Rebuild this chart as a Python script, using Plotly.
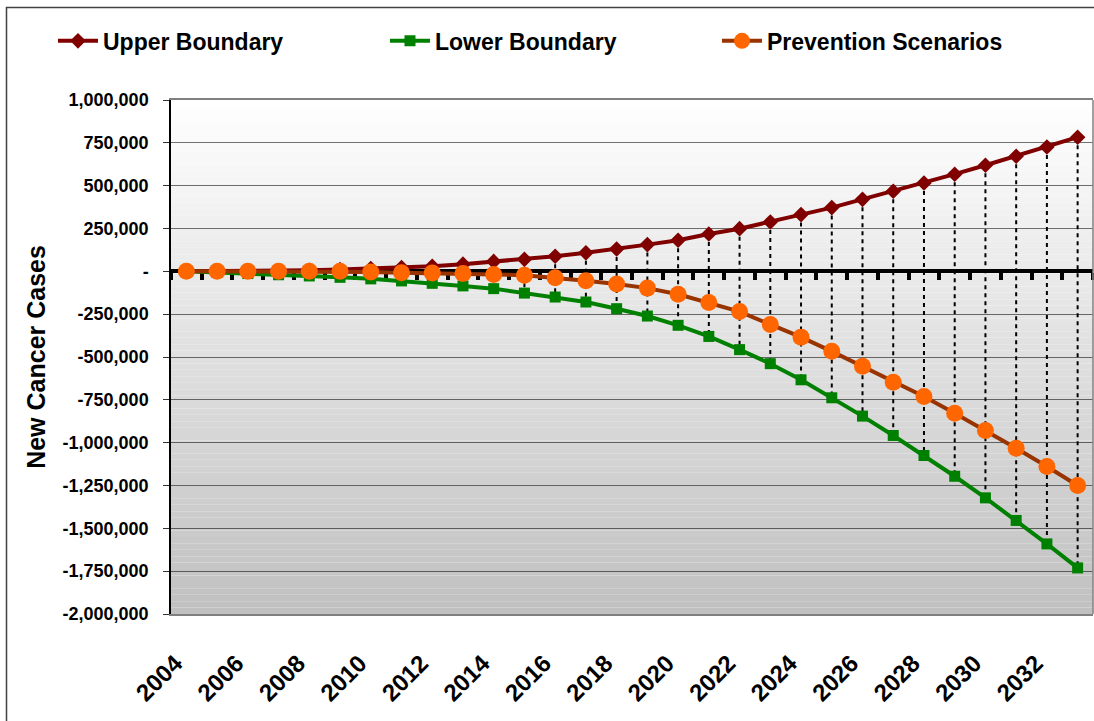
import plotly.graph_objects as go

# ---------------- data ----------------
years = [2004, 2005, 2006, 2007, 2008, 2009, 2010, 2011, 2012, 2013,
         2014, 2015, 2016, 2017, 2018, 2019, 2020, 2021, 2022, 2023,
         2024, 2025, 2026, 2027, 2028, 2029, 2030, 2031, 2032, 2033]

upper_boundary = [0, 500, 1000, 3000, 6000, 10000, 16000, 22000, 30000, 42000,
                  58000, 70000, 88000, 108000, 130000, 156000, 181000, 218000, 249000, 288000,
                  331000, 372000, 420000, 467000, 516000, 567000, 619000, 672000, 726000, 783000]

lower_boundary = [0, -6000, -13000, -20000, -27000, -35000, -44000, -56000, -70000, -85000,
                  -101000, -127000, -150000, -179000, -218000, -261000, -315000, -380000, -457000, -539000,
                  -633000, -738000, -845000, -958000, -1075000, -1196000, -1322000, -1454000, -1591000, -1731000]

prevention = [0, 0, 0, 0, 0, 0, -4000, -8000, -10000, -13000,
              -18000, -23000, -37000, -55000, -74000, -98000, -134000, -182000, -235000, -310000,
              -384000, -467000, -554000, -647000, -730000, -828000, -929000, -1032000, -1139000, -1250000]

x_tick_years = [2004, 2006, 2008, 2010, 2012, 2014, 2016, 2018, 2020, 2022, 2024, 2026, 2028, 2030, 2032]

y_tick_vals = [1000000, 750000, 500000, 250000, 0, -250000, -500000, -750000,
               -1000000, -1250000, -1500000, -1750000, -2000000]
y_tick_text = ["1,000,000", "750,000", "500,000", "250,000", "-", "-250,000", "-500,000",
               "-750,000", "-1,000,000", "-1,250,000", "-1,500,000", "-1,750,000", "-2,000,000"]

# ---------------- figure ----------------
FONT = "Liberation Sans, Arial, sans-serif"
fig = go.Figure()

# invisible carrier trace so the category axis crossing at zero (x2) is drawn
fig.add_trace(go.Scatter(x=years, y=prevention, xaxis="x2", mode="lines",
                         line=dict(width=0, color="rgba(0,0,0,0)"), opacity=0,
                         showlegend=False, hoverinfo="skip"))

# high-low (drop) lines between upper and lower boundary
hl_x, hl_y = [], []
for yr, hi, lo in zip(years, upper_boundary, lower_boundary):
    hl_x += [yr, yr, None]
    hl_y += [hi, lo, None]
fig.add_trace(go.Scatter(x=hl_x, y=hl_y, mode="lines",
                         line=dict(color="black", width=2, dash="4px,4px"),
                         showlegend=False, hoverinfo="skip"))

fig.add_trace(go.Scatter(x=years, y=upper_boundary, name="Upper Boundary",
                         mode="lines+markers",
                         line=dict(color="#800000", width=4),
                         marker=dict(symbol="diamond", size=12, color="#800000")))
fig.add_trace(go.Scatter(x=years, y=lower_boundary, name="Lower Boundary",
                         mode="lines+markers",
                         line=dict(color="#008000", width=4),
                         marker=dict(symbol="square", size=11, color="#008000")))
fig.add_trace(go.Scatter(x=years, y=prevention, name="Prevention Scenarios",
                         mode="lines+markers",
                         line=dict(color="#993300", width=4),
                         marker=dict(symbol="circle", size=17, color="#FF6600")))

# gradient plot background (white -> gray)
shapes = []
n_bands = 80
for i in range(n_bands):
    t = (i + 0.5) / n_bands
    c = int(round(255 - (255 - 192) * t))
    shapes.append(dict(type="rect", xref="x domain", yref="y domain",
                       x0=0, x1=1, y0=1 - (i + 1) / n_bands, y1=1 - i / n_bands,
                       fillcolor=f"rgb({c},{c},{c})", line=dict(width=0), layer="below"))
# right edge of plot area
shapes.append(dict(type="line", xref="x domain", yref="y domain", x0=1, x1=1, y0=0, y1=1,
                   line=dict(color="#808080", width=1.5)))
# outer chart border
shapes.append(dict(type="rect", xref="paper", yref="paper",
                   x0=(6.5 - 171) / 922, x1=(1100 - 171) / 922,
                   y0=(614 - 730) / 514, y1=(614 - 7.5) / 514,
                   line=dict(color="#404040", width=1.5), fillcolor="rgba(0,0,0,0)", layer="below"))

boundaries = [yr - 0.5 for yr in years] + [years[-1] + 0.5]

fig.update_layout(
    width=1094, height=721,
    margin=dict(l=171, r=1, t=100, b=107, autoexpand=False),
    paper_bgcolor="white", plot_bgcolor="white",
    font=dict(family=FONT, color="black"),
    shapes=shapes,
    showlegend=True,
    legend=dict(orientation="h", x=-0.128, xanchor="left", y=1.115, yanchor="middle",
                font=dict(family=FONT, size=23, weight="bold", color="black"),
                entrywidth=277, entrywidthmode="pixels",
                bgcolor="rgba(0,0,0,0)", itemwidth=40),
    xaxis=dict(range=[years[0] - 0.5, years[-1] + 0.5],
               tickmode="array", tickvals=x_tick_years, ticktext=[str(v) for v in x_tick_years],
               tickangle=-45, ticks="", showgrid=False, zeroline=False,
               showline=True, linecolor="#808080", linewidth=1.5, mirror=True,
               tickfont=dict(family=FONT, size=24, weight="bold"),
               ticklabelstandoff=24, ticklabelshift=-11),
    xaxis2=dict(overlaying="x", anchor="free", position=2 / 3,
                range=[years[0] - 0.5, years[-1] + 0.5],
                tickmode="array", tickvals=boundaries,
                ticks="outside", ticklen=7, tickwidth=4, tickcolor="black",
                showticklabels=False, showgrid=False, zeroline=False,
                showline=True, linewidth=4, linecolor="black", layer="below traces"),
    yaxis=dict(range=[-2000000, 1000000],
               tickmode="array", tickvals=y_tick_vals, ticktext=y_tick_text,
               ticks="outside", ticklen=6, tickcolor="#333333",
               showgrid=True, gridcolor="rgba(0,0,0,0.55)", gridwidth=1,
               zeroline=False, showline=True, linecolor="black", linewidth=1.5,
               tickfont=dict(family=FONT, size=18, weight="bold"),
               ticklabelstandoff=11,
               title=dict(text="New Cancer Cases", standoff=10,
                          font=dict(family=FONT, size=25, weight="bold"))),
)

fig.write_html("out.html", post_script="document.body.style.margin='0';",
               config={"displayModeBar": False})
